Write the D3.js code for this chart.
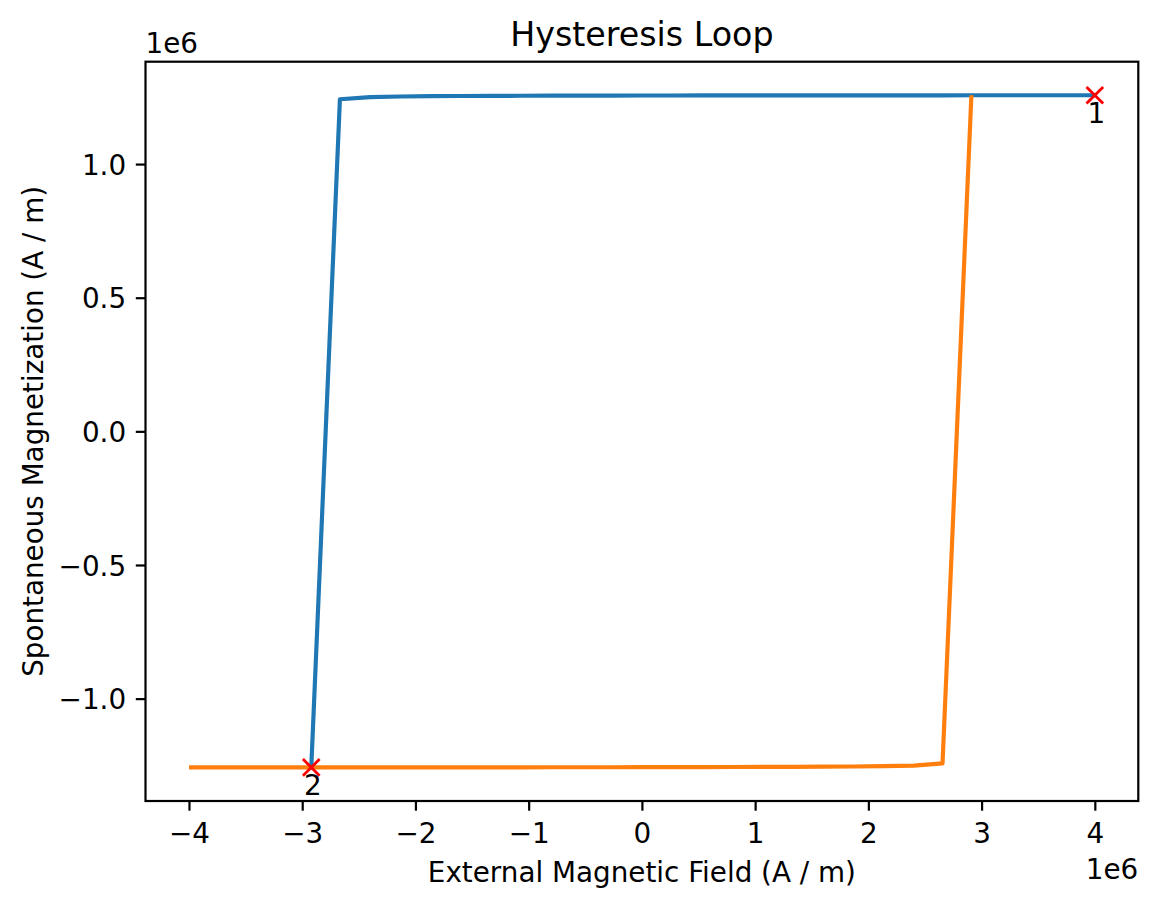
<!DOCTYPE html>
<html>
<head>
<meta charset="utf-8">
<script src="https://cdn.jsdelivr.net/npm/d3@7"></script>
<style>
  html, body { margin: 0; padding: 0; background: #ffffff; }
  svg { display: block; font-family: "DejaVu Sans", sans-serif; }
</style>
</head>
<body>
<svg id="chart" width="1157" height="908"></svg>
<script>
// ---- data (field and magnetization in units of 1e6 A/m) ----
const blueField = [4.000, 3.733, 3.467, 3.200, 2.933, 2.667, 2.400, 2.133, 1.867, 1.600, 1.333, 1.067, 0.800, 0.533, 0.267, 0.000,
  -0.267, -0.533, -0.800, -1.067, -1.333, -1.600, -1.867, -2.133, -2.400, -2.667, -2.920];
const blueMag = [1.2575, 1.2575, 1.2574, 1.2574, 1.2574, 1.2573, 1.2573, 1.2572, 1.2572, 1.2571, 1.2570, 1.2569, 1.2568, 1.2567, 1.2566, 1.2565,
  1.2563, 1.2561, 1.2558, 1.2555, 1.2551, 1.2546, 1.2539, 1.2528, 1.2506, 1.2425, -1.2575];
const orangeField = [-4.000, -3.733, -3.467, -3.200, -2.933, -2.667, -2.400, -2.133, -1.867, -1.600, -1.333, -1.067, -0.800, -0.533, -0.267, 0.000,
  0.267, 0.533, 0.800, 1.067, 1.333, 1.600, 1.867, 2.133, 2.400, 2.655, 2.910];
const orangeMag = [-1.2575, -1.2575, -1.2574, -1.2574, -1.2574, -1.2573, -1.2573, -1.2572, -1.2572, -1.2571, -1.2570, -1.2569, -1.2568, -1.2567, -1.2566, -1.2565,
  -1.2563, -1.2561, -1.2558, -1.2555, -1.2551, -1.2546, -1.2539, -1.2528, -1.2506, -1.2420, 1.2575];
const markerField = [4.000, -2.920];
const markerMag = [1.2575, -1.2575];
const markerLabels = ["1", "2"];
const xTicks = [-4, -3, -2, -1, 0, 1, 2, 3, 4];
const yTicks = [-1.0, -0.5, 0.0, 0.5, 1.0];
const xDomain = [-4.384, 4.384];
const yDomain = [-1.383, 1.383];

// ---- layout ----
const svg = d3.select("#chart");
const L = 145.5, R = 1138.3, T = 61.7, B = 801.0;
const fs = 27.8;
const x = d3.scaleLinear().domain(xDomain).range([L, R]);
const y = d3.scaleLinear().domain(yDomain).range([B, T]);
const minus = s => s.replace("-", "\u2212");

const line = d3.line().x(d => x(d[0])).y(d => y(d[1]));
const blue = blueField.map((f, i) => [f, blueMag[i]]);
const orange = orangeField.map((f, i) => [f, orangeMag[i]]);

svg.append("path").datum(blue).attr("d", line)
  .attr("fill", "none").attr("stroke", "#1f77b4").attr("stroke-width", 4.17)
  .attr("stroke-linejoin", "round").attr("stroke-linecap", "butt");
svg.append("path").datum(orange).attr("d", line)
  .attr("fill", "none").attr("stroke", "#ff7f0e").attr("stroke-width", 4.17)
  .attr("stroke-linejoin", "round").attr("stroke-linecap", "butt");

// markers
const ms = 8.35;
markerField.forEach((f, i) => {
  const cx = x(f), cy = y(markerMag[i]);
  const g = svg.append("g").attr("stroke", "#ff0000").attr("stroke-width", 2.78).attr("stroke-linecap", "butt");
  g.append("line").attr("x1", cx - ms).attr("y1", cy - ms).attr("x2", cx + ms).attr("y2", cy + ms);
  g.append("line").attr("x1", cx - ms).attr("y1", cy + ms).attr("x2", cx + ms).attr("y2", cy - ms);
  svg.append("text").attr("x", cx + 1.5).attr("y", cy + 27.5)
    .attr("text-anchor", "middle").attr("font-size", fs).attr("fill", "#000")
    .text(markerLabels[i]);
});

// axes
const xAxis = d3.axisBottom(x).tickValues(xTicks).tickSize(9.7).tickPadding(9.7)
  .tickFormat(d => minus(d3.format("d")(d)));
const gx = svg.append("g").attr("transform", `translate(0,${B})`).call(xAxis);
gx.select(".domain").remove();
gx.selectAll(".tick line").attr("stroke", "#000").attr("stroke-width", 2.2);
gx.selectAll(".tick text").attr("font-size", fs).attr("font-family", "DejaVu Sans")
  .attr("fill", "#000").attr("y", 42.3).attr("dy", "0");

const yAxis = d3.axisLeft(y).tickValues(yTicks).tickSize(9.7).tickPadding(9.7)
  .tickFormat(d => minus(d3.format(".1f")(d)));
const gy = svg.append("g").attr("transform", `translate(${L},0)`).call(yAxis);
gy.select(".domain").remove();
gy.selectAll(".tick line").attr("stroke", "#000").attr("stroke-width", 2.2);
gy.selectAll(".tick text").attr("font-size", fs).attr("font-family", "DejaVu Sans")
  .attr("fill", "#000").attr("dy", "0.36em");

// spines
svg.append("rect").attr("x", L).attr("y", T).attr("width", R - L).attr("height", B - T)
  .attr("fill", "none").attr("stroke", "#000").attr("stroke-width", 2.2);

// offset texts
svg.append("text").attr("x", R).attr("y", 879).attr("text-anchor", "end")
  .attr("font-size", fs).attr("fill", "#000").text("1e6");
svg.append("text").attr("x", L).attr("y", 53.3).attr("text-anchor", "start")
  .attr("font-size", fs).attr("fill", "#000").text("1e6");

// labels
svg.append("text").attr("x", (L + R) / 2).attr("y", 882).attr("text-anchor", "middle")
  .attr("font-size", fs).attr("fill", "#000").text("External Magnetic Field (A / m)");
svg.append("text").attr("transform", `translate(43,${(T + B) / 2}) rotate(-90)`)
  .attr("text-anchor", "middle").attr("font-size", fs).attr("fill", "#000")
  .text("Spontaneous Magnetization (A / m)");
svg.append("text").attr("x", (L + R) / 2).attr("y", 46).attr("text-anchor", "middle")
  .attr("font-size", 33.3).attr("fill", "#000").text("Hysteresis Loop");
</script>
</body>
</html>
